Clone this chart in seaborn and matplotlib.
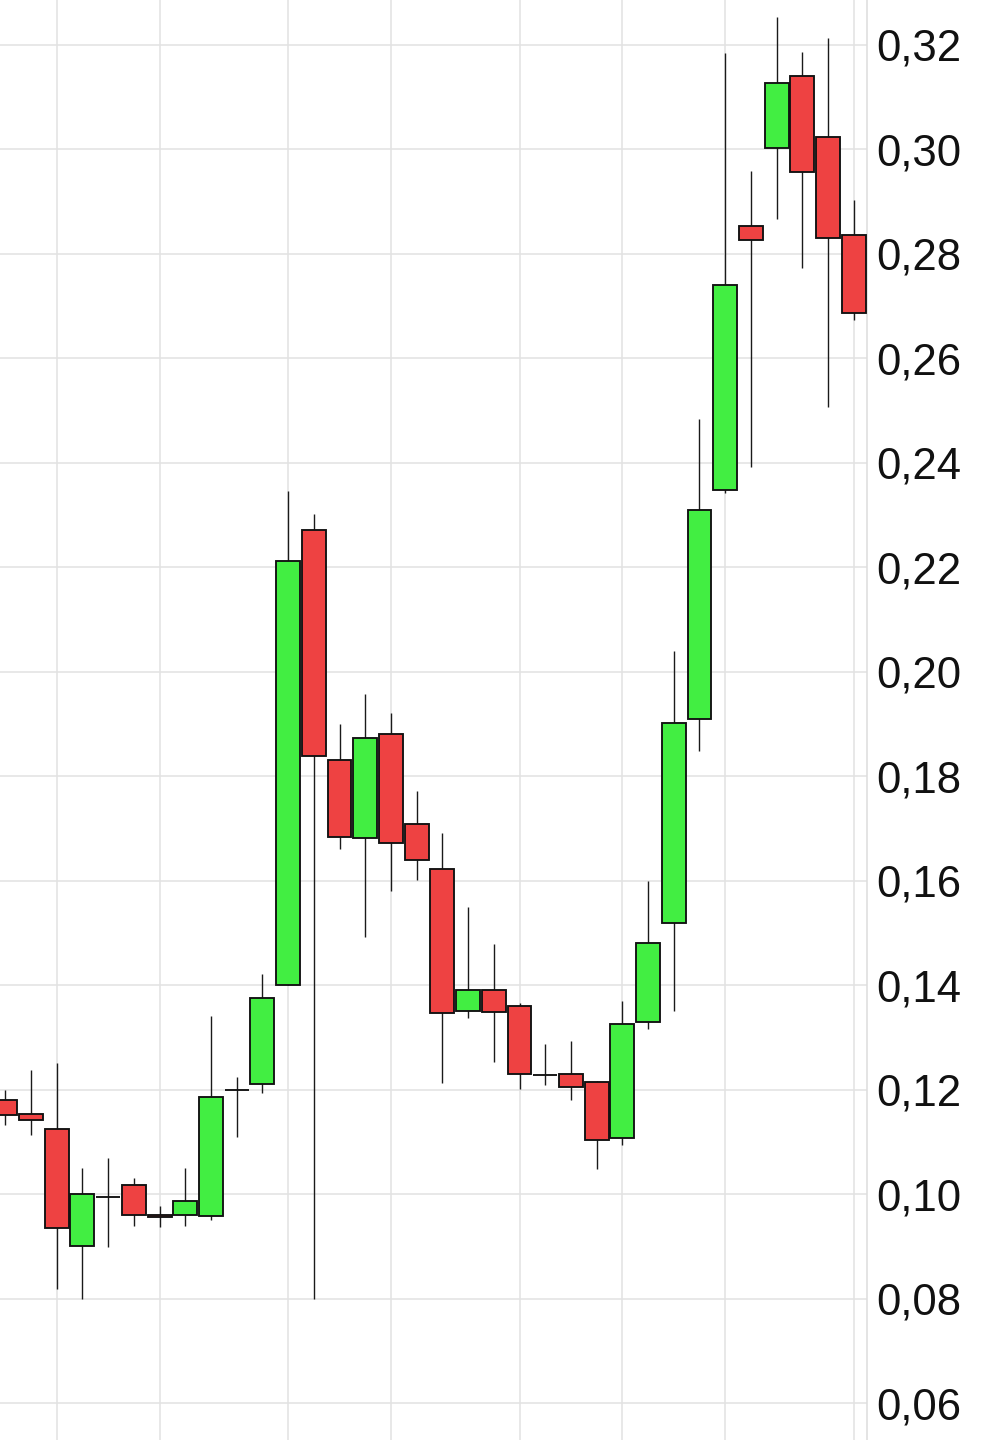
import numpy as np
import pandas as pd
import matplotlib
matplotlib.use("Agg")
import matplotlib.pyplot as plt
from matplotlib.ticker import FuncFormatter, FixedLocator
import seaborn as sns

# ── Data ──────────────────────────────────────────────────────────────────
opens  = [0.1180, 0.1154, 0.1125, 0.0901, 0.0995, 0.1018, 0.0961, 0.0961, 0.0958, 0.1200,
          0.1211, 0.1401, 0.2272, 0.1832, 0.1683, 0.1881, 0.1708, 0.1622, 0.1352, 0.1391,
          0.1361, 0.1229, 0.1231, 0.1216, 0.1108, 0.1330, 0.1519, 0.1909, 0.2348, 0.2854,
          0.3003, 0.3141, 0.3023, 0.2836]
highs  = [0.1200, 0.1238, 0.1252, 0.1051, 0.1069, 0.1031, 0.0977, 0.1051, 0.1342, 0.1224,
          0.1422, 0.2347, 0.2302, 0.1900, 0.1957, 0.1922, 0.1773, 0.1692, 0.1551, 0.1479,
          0.1367, 0.1287, 0.1294, 0.1218, 0.1370, 0.1600, 0.2040, 0.2484, 0.3185, 0.2958,
          0.3254, 0.3187, 0.3213, 0.2903]
lows   = [0.1133, 0.1113, 0.0819, 0.0799, 0.0900, 0.0940, 0.0938, 0.0940, 0.0951, 0.1109,
          0.1194, 0.1401, 0.0800, 0.1661, 0.1493, 0.1581, 0.1602, 0.1213, 0.1337, 0.1253,
          0.1201, 0.1210, 0.1181, 0.1049, 0.1095, 0.1316, 0.1351, 0.1849, 0.2343, 0.2392,
          0.2867, 0.2773, 0.2508, 0.2674]
closes = [0.1152, 0.1142, 0.0935, 0.1001, 0.0995, 0.0961, 0.0956, 0.0988, 0.1186, 0.1200,
          0.1375, 0.2212, 0.1839, 0.1685, 0.1873, 0.1672, 0.1640, 0.1347, 0.1391, 0.1349,
          0.1231, 0.1229, 0.1205, 0.1104, 0.1326, 0.1481, 0.1902, 0.2310, 0.2741, 0.2827,
          0.3127, 0.2956, 0.2830, 0.2686]
grid_candles = [2, 6, 11, 15, 20, 24, 28, 33]     # vertical grid positions (candle index)
y_ticks = [0.06, 0.08, 0.10, 0.12, 0.14, 0.16, 0.18, 0.20, 0.22, 0.24, 0.26, 0.28, 0.30, 0.32]

df = pd.DataFrame({"open": opens, "high": highs, "low": lows, "close": closes})
df["idx"] = np.arange(len(df))
df["up"] = df["close"] >= df["open"]
df["body_lo"] = df[["open", "close"]].min(axis=1)
df["body_h"] = (df["close"] - df["open"]).abs()

GREEN = "#42EE42"
RED = "#EE4242"

sns.set_theme(style="whitegrid")
plt.rcParams["font.family"] = ["Liberation Sans", "DejaVu Sans"]

fig = plt.figure(figsize=(9.86, 14.4), dpi=100)
ax = fig.add_axes([0, 0, 867 / 986, 1])
ax.set_facecolor("white")

# wicks
ax.vlines(df["idx"], df["low"], df["high"], color="#1a1a1a", linewidth=1.0, zorder=2)
# bodies
ax.bar(df["idx"], df["body_h"], bottom=df["body_lo"], width=0.93,
       color=np.where(df["up"], GREEN, RED), edgecolor="#111111",
       linewidth=1.35, zorder=3)

ax.set_xlim(-0.206, 33.516)
ax.set_ylim(0.0530, 0.3286)

ax.xaxis.set_major_locator(FixedLocator(grid_candles))
ax.set_xticklabels([])
ax.yaxis.set_major_locator(FixedLocator(y_ticks))
ax.yaxis.tick_right()
ax.yaxis.set_major_formatter(FuncFormatter(lambda v, p: f"{v:.2f}".replace(".", ",")))
ax.tick_params(axis="y", length=0, pad=6.5, labelsize=31.5, labelcolor="#111111")
ax.tick_params(axis="x", length=0)

ax.grid(True, color="#E2E2E2", linewidth=1.1)
ax.set_axisbelow(True)
for side in ["left", "top", "bottom"]:
    ax.spines[side].set_visible(False)
ax.spines["right"].set_color("#DDDDDD")
ax.spines["right"].set_linewidth(1.1)

fig.savefig("out.png", dpi=100)
plt.close(fig)
